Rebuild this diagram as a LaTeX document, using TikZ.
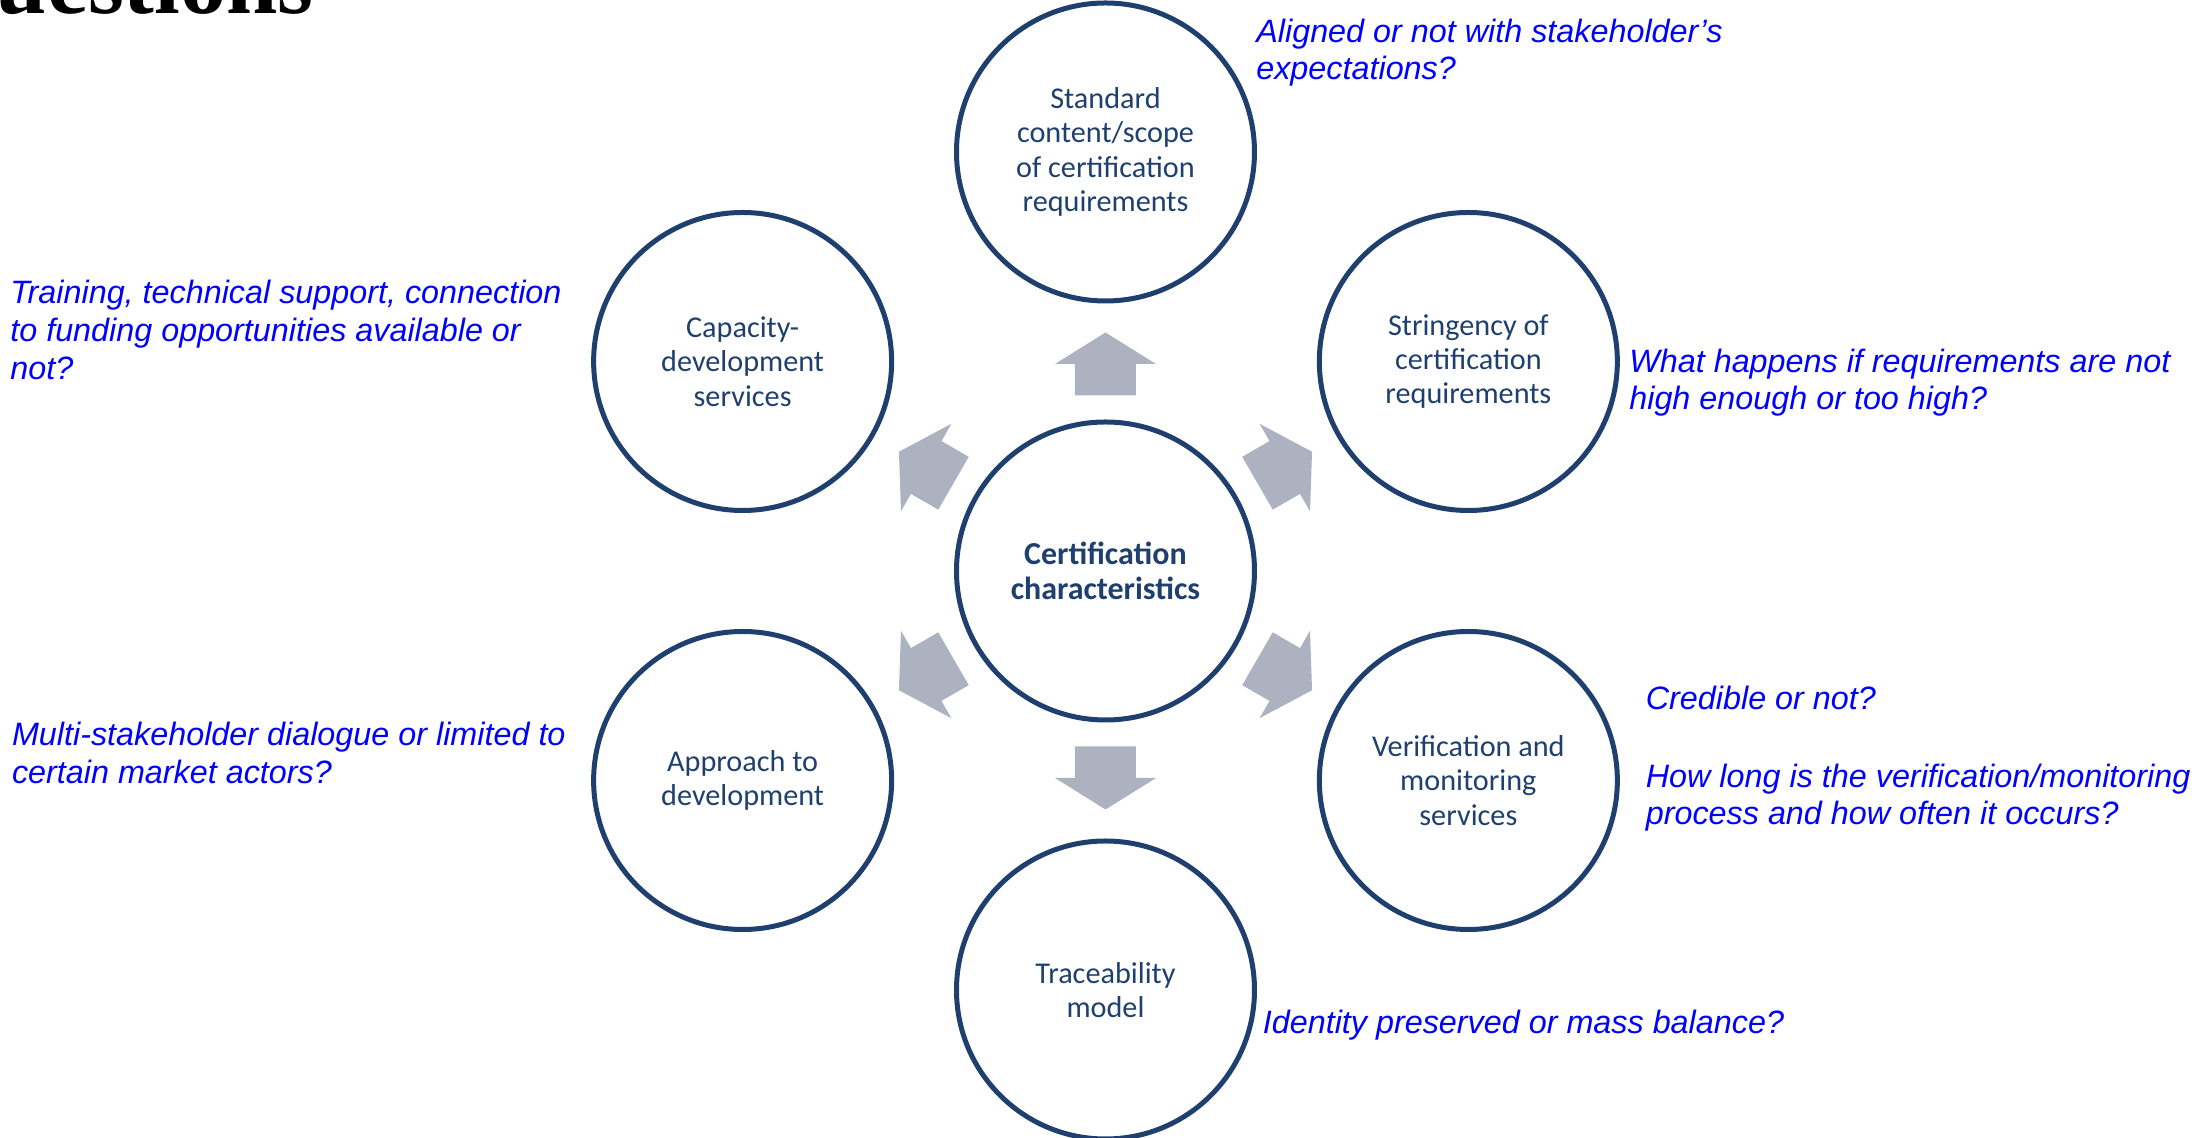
\documentclass[tikz,border=0pt]{standalone}
\usepackage{fontspec}
\setmainfont{Carlito}
\newfontfamily\qfont{Liberation Sans}
\newfontfamily\titlefont{Liberation Serif}
\usetikzlibrary{positioning}

\definecolor{ringblue}{RGB}{31,64,110}
\definecolor{arrowgray}{RGB}{173,178,192}
\definecolor{qblue}{RGB}{0,0,255}

\begin{document}
\begin{tikzpicture}[
  ring/.style={circle, draw=ringblue, line width=1mm, minimum size=5.96cm, inner sep=0pt, align=center, text=ringblue, font=\fontsize{17.2}{19.6}\selectfont},
  hubring/.style={ring, font=\fontsize{18.2}{19.6}\selectfont\bfseries},
  question/.style={anchor=base west, align=left, inner sep=0pt, text=qblue, font=\qfont\itshape\fontsize{18.4}{21.6}\selectfont},
  blockarrow/.style={fill=arrowgray}]
  \useasboundingbox (-22.11,-11.34) rectangle (21.93,11.42);
  % title fragment, cut by the page edge
  \node[anchor=base west, inner sep=0pt, font=\titlefont\bfseries\fontsize{52.5}{60}\selectfont] (title) at (-22.2,11.14) {uestions};
  % hub and the six characteristics
  \node[hubring] (hub) at (0,0) {Certification\\characteristics};
  \node[ring] (scope) at (90:8.38) {Standard\\content/scope\\of certification\\requirements};
  \node[ring] (strin) at (30:8.38) {Stringency of\\certification\\requirements};
  \node[ring] (verif) at (-30:8.38) {Verification and\\monitoring\\services};
  \node[ring] (trace) at (-90:8.38) {Traceability\\model};
  \node[ring] (appr) at (-150:8.38) {Approach to\\development};
  \node[ring] (capa) at (150:8.38) {Capacity-\\development\\services};
  % block arrows out of the hub
  \foreach \ang in {90,30,-30,-90,-150,150}
    \fill[blockarrow, shift={(hub.center)}, rotate=\ang] (3.51,-0.61) -- (4.14,-0.61) -- (4.14,-1.01) -- (4.77,0) -- (4.14,1.01) -- (4.14,0.61) -- (3.51,0.61) -- cycle;
  % questions (base = last line)
  \node[question] (qscope) at (3.01,9.82) {Aligned or not with stakeholder’s\\expectations?};
  \node[question] (qstrin) at (10.47,3.22) {What happens if requirements are not\\high enough or too high?};
  \node[question] (qverif) at (10.8,-5.08) {Credible or not?\\[0.8cm]How long is the verification/monitoring\\process and how often it occurs?};
  \node[question] (qtrace) at (3.14,-9.246) {Identity preserved or mass balance?};
  \node[question] (qappr) at (-21.876,-4.246) {Multi-stakeholder dialogue or limited to\\certain market actors?};
  \node[question] (qcapa) at (-21.91,3.834) {Training, technical support, connection\\to funding opportunities available or\\not?};
\end{tikzpicture}
\end{document}
